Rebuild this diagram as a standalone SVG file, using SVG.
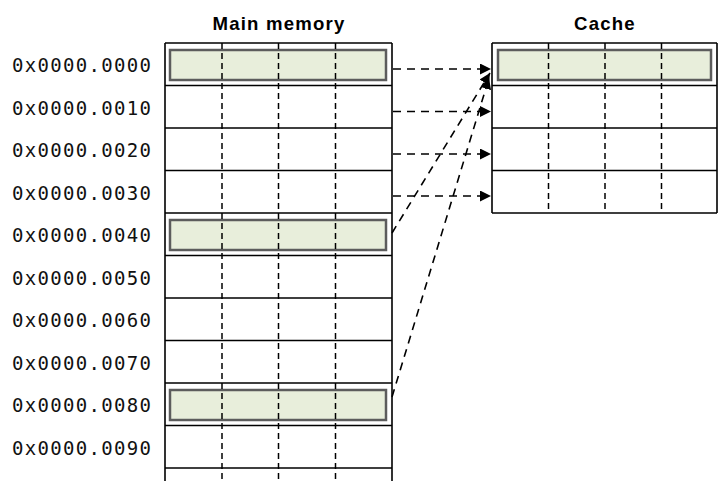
<svg xmlns="http://www.w3.org/2000/svg" width="724" height="481" viewBox="0 0 724 481">
<style>
.title{font-family:"Liberation Sans",Arial,sans-serif;font-weight:bold;font-size:18.6px;letter-spacing:1.2px;fill:#000;text-anchor:middle}
.addr{font-family:"DejaVu Sans Mono",monospace;font-size:19px;fill:#111}
.solid{stroke:#000;stroke-width:1.6;fill:none}
.vdash{stroke:#000;stroke-width:1.5;stroke-dasharray:6,4;fill:none}
.hl{fill:#e8eedb;stroke:#5c5c5c;stroke-width:2.5}
.conn{stroke:#000;stroke-width:1.6;stroke-dasharray:8,6;fill:none;marker-end:url(#arr)}
</style>
<defs>
<marker id="arr" markerUnits="userSpaceOnUse" markerWidth="12" markerHeight="11" refX="11" refY="5.5" orient="auto">
<path d="M0,0 L11,5.5 L0,11 z" fill="#000"/>
</marker>
</defs>
<rect width="724" height="481" fill="#fff"/>

<g id="main-memory">
<text class="title" x="279" y="30">Main memory</text>
<rect class="hl" x="170" y="50" width="216" height="30"/>
<rect class="hl" x="170" y="220" width="216" height="30"/>
<rect class="hl" x="170" y="390" width="216" height="30"/>
<path class="solid" d="M165,43 V481 M392,43 V481 M165,43 H392 M165,85.5 H392 M165,128 H392 M165,170.5 H392 M165,213 H392 M165,255.5 H392 M165,298 H392 M165,340.5 H392 M165,383 H392 M165,425.5 H392 M165,468 H392"/>
<path class="vdash" d="M222,43 V481 M278.5,43 V481 M335.5,43 V481"/>
</g>

<g id="addresses">
<text class="addr" x="12" y="72" textLength="139">0x0000.0000</text>
<text class="addr" x="12" y="114.5" textLength="139">0x0000.0010</text>
<text class="addr" x="12" y="157" textLength="139">0x0000.0020</text>
<text class="addr" x="12" y="199.5" textLength="139">0x0000.0030</text>
<text class="addr" x="12" y="242" textLength="139">0x0000.0040</text>
<text class="addr" x="12" y="284.5" textLength="139">0x0000.0050</text>
<text class="addr" x="12" y="327" textLength="139">0x0000.0060</text>
<text class="addr" x="12" y="369.5" textLength="139">0x0000.0070</text>
<text class="addr" x="12" y="412" textLength="139">0x0000.0080</text>
<text class="addr" x="12" y="454.5" textLength="139">0x0000.0090</text>
</g>

<g id="cache">
<text class="title" x="605" y="30">Cache</text>
<rect class="hl" x="498" y="50" width="213" height="30"/>
<path class="solid" d="M492,43 V213 M717,43 V213 M492,43 H717 M492,85.5 H717 M492,128 H717 M492,170.5 H717 M492,213 H717"/>
<path class="vdash" d="M548.5,43 V213 M605,43 V213 M661.5,43 V213"/>
</g>

<g id="connectors">
<line class="conn" x1="393" y1="69" x2="491" y2="69"/>
<line class="conn" x1="393" y1="111.5" x2="491" y2="111.5"/>
<line class="conn" x1="393" y1="154" x2="491" y2="154"/>
<line class="conn" x1="393" y1="196" x2="491" y2="196"/>
<line class="conn" x1="392" y1="233" x2="490" y2="73"/>
<line class="conn" x1="392" y1="397" x2="489" y2="78"/>
</g>
</svg>
